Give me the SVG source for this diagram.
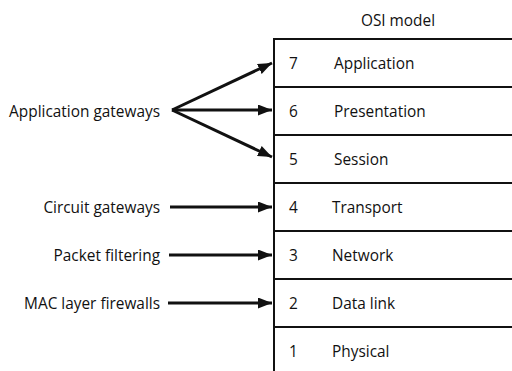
<svg xmlns="http://www.w3.org/2000/svg" width="512" height="371" viewBox="0 0 512 371">
  <style>
    text { font-family: "Open Sans", "Noto Sans", sans-serif; font-size: 15.4px; fill: #111; }
    .lbl { text-anchor: end; }
    .row { fill: #fff; stroke: #111; stroke-width: 2; }
    .conn { stroke: #111; stroke-width: 3; fill: none; marker-end: url(#arrow); }
  </style>
  <defs>
    <marker id="arrow" viewBox="0 0 14 11" refX="14" refY="5.5" markerWidth="14" markerHeight="11" markerUnits="userSpaceOnUse" orient="auto">
      <path d="M0,0 L14,5.5 L0,11 Z" fill="#111"/>
    </marker>
  </defs>
  <rect width="512" height="371" fill="#fff"/>

  <text x="398" y="26" text-anchor="middle">OSI model</text>

  <!-- OSI layer stack -->
  <g id="layer7"><rect class="row" x="274" y="39" width="250" height="48"/><text x="289" y="69">7</text><text x="334" y="69">Application</text></g>
  <g id="layer6"><rect class="row" x="274" y="87" width="250" height="48"/><text x="289" y="117">6</text><text x="334" y="117">Presentation</text></g>
  <g id="layer5"><rect class="row" x="274" y="135" width="250" height="48"/><text x="289" y="165">5</text><text x="334" y="165">Session</text></g>
  <g id="layer4"><rect class="row" x="274" y="183" width="250" height="48"/><text x="289" y="213">4</text><text x="332" y="213">Transport</text></g>
  <g id="layer3"><rect class="row" x="274" y="231" width="250" height="48"/><text x="289" y="261">3</text><text x="332" y="261">Network</text></g>
  <g id="layer2"><rect class="row" x="274" y="279" width="250" height="48"/><text x="289" y="309">2</text><text x="332" y="309">Data link</text></g>
  <g id="layer1"><rect class="row" x="274" y="327" width="250" height="48"/><text x="289" y="357">1</text><text x="332" y="357">Physical</text></g>

  <!-- firewall types -->
  <g id="app-gw"><text class="lbl" x="160" y="117">Application gateways</text></g>
  <g id="circuit-gw"><text class="lbl" x="160" y="213">Circuit gateways</text></g>
  <g id="packet-filter"><text class="lbl" x="160" y="261">Packet filtering</text></g>
  <g id="mac-fw"><text class="lbl" x="160" y="309">MAC layer firewalls</text></g>

  <g id="connectors">
    <line class="conn" x1="172" y1="110" x2="272" y2="63"/>
    <line class="conn" x1="172" y1="110" x2="272" y2="110"/>
    <line class="conn" x1="172" y1="110" x2="272" y2="157"/>
    <line class="conn" x1="170" y1="207" x2="272" y2="207"/>
    <line class="conn" x1="169" y1="255" x2="272" y2="255"/>
    <line class="conn" x1="168" y1="303" x2="272" y2="303"/>
  </g>
</svg>
